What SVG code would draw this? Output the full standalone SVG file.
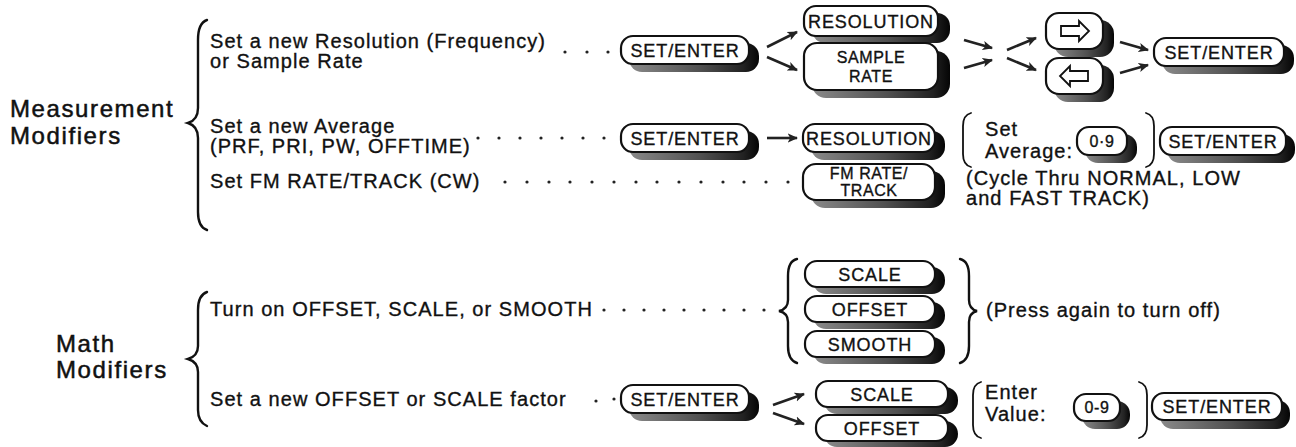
<svg xmlns="http://www.w3.org/2000/svg" width="1296" height="447" viewBox="0 0 1296 447">
<style>
text{font-family:"Liberation Sans",Arial,Helvetica,sans-serif;fill:#111;stroke:#111;stroke-width:0.35}
.body{font-size:20px;letter-spacing:1.05px}
.big{font-size:24px;letter-spacing:1.6px;stroke-width:0.5}
.kt{font-size:18px;letter-spacing:0.9px;text-anchor:middle}
.ks{font-size:16px;letter-spacing:0.6px;text-anchor:middle}
.kw{fill:#fff;stroke:#111;stroke-width:2.2}
.sh{fill:url(#shg)}
.br{fill:none;stroke:#111;stroke-width:2.4;stroke-linecap:round}
.bk{fill:none;stroke:#111;stroke-width:1.8;stroke-linecap:round}
.dot{fill:#222}
.ar{stroke:#222;stroke-width:2.6;marker-end:url(#ah)}
.ic{fill:#fff;stroke:#111;stroke-width:1.8;stroke-linejoin:miter}
</style>
<defs>
<linearGradient id="shg" x1="0" y1="0" x2="1" y2="0">
<stop offset="0" stop-color="#8a8a8a"/>
<stop offset="0.55" stop-color="#505050"/>
<stop offset="0.88" stop-color="#222"/>
<stop offset="1" stop-color="#050505"/>
</linearGradient>
<marker id="ah" viewBox="0 0 10 10" refX="9" refY="5" markerWidth="4" markerHeight="4" orient="auto" markerUnits="strokeWidth">
<path d="M0,0.5 L10,5 L0,9.5 L2.5,5 Z" fill="#222"/>
</marker>
</defs>

<g id="label-measurement">
<text class="big" x="10" y="117">Measurement</text>
<text class="big" x="10" y="144">Modifiers</text>
<path class="br" d="M207,20 Q198,23 198,40 L198,108 Q198,120 188,123 Q198,126 198,138 L198,212 Q198,227 207,230"/>
</g>

<g id="label-math">
<text class="big" x="56" y="352">Math</text>
<text class="big" x="56" y="378">Modifiers</text>
<path class="br" d="M207,292 Q198,295 198,310 L198,346 Q198,356 188,359 Q198,362 198,372 L198,410 Q198,422 207,426"/>
</g>

<g id="row1-text">
<text class="body" x="210" y="48">Set a new Resolution (Frequency)</text>
<text class="body" x="210" y="68">or Sample Rate</text>
<circle class="dot" cx="565" cy="52" r="1.6"/><circle class="dot" cx="587" cy="52" r="1.6"/><circle class="dot" cx="608" cy="52" r="1.6"/>
</g>
<g id="row2-text">
<text class="body" x="210" y="133">Set a new Average</text>
<text class="body" x="210" y="153">(PRF, PRI, PW, OFFTIME)</text>
<circle class="dot" cx="478" cy="138" r="1.6"/><circle class="dot" cx="499" cy="138" r="1.6"/><circle class="dot" cx="520" cy="138" r="1.6"/><circle class="dot" cx="541" cy="138" r="1.6"/><circle class="dot" cx="562" cy="138" r="1.6"/><circle class="dot" cx="583" cy="138" r="1.6"/><circle class="dot" cx="604" cy="138" r="1.6"/>
</g>
<g id="row3-text">
<text class="body" x="210" y="188">Set FM RATE/TRACK (CW)</text>
<circle class="dot" cx="505" cy="182" r="1.6"/><circle class="dot" cx="527" cy="182" r="1.6"/><circle class="dot" cx="549" cy="182" r="1.6"/><circle class="dot" cx="570" cy="182" r="1.6"/><circle class="dot" cx="592" cy="182" r="1.6"/><circle class="dot" cx="614" cy="182" r="1.6"/><circle class="dot" cx="636" cy="182" r="1.6"/><circle class="dot" cx="657" cy="182" r="1.6"/><circle class="dot" cx="679" cy="182" r="1.6"/><circle class="dot" cx="701" cy="182" r="1.6"/><circle class="dot" cx="723" cy="182" r="1.6"/><circle class="dot" cx="744" cy="182" r="1.6"/><circle class="dot" cx="766" cy="182" r="1.6"/><circle class="dot" cx="788" cy="182" r="1.6"/>
<text class="body" x="966" y="185">(Cycle Thru NORMAL, LOW</text>
<text class="body" x="966" y="205">and FAST TRACK)</text>
</g>
<g id="row4-text">
<text class="body" x="210" y="316">Turn on OFFSET, SCALE, or SMOOTH</text>
<circle class="dot" cx="604" cy="310" r="1.6"/><circle class="dot" cx="624" cy="310" r="1.6"/><circle class="dot" cx="644" cy="310" r="1.6"/><circle class="dot" cx="664" cy="310" r="1.6"/><circle class="dot" cx="684" cy="310" r="1.6"/><circle class="dot" cx="704" cy="310" r="1.6"/><circle class="dot" cx="724" cy="310" r="1.6"/><circle class="dot" cx="744" cy="310" r="1.6"/><circle class="dot" cx="764" cy="310" r="1.6"/>
<path class="br" d="M797,259 Q788,261 788,276 L788,300 Q788,309 779,311 Q788,313 788,322 L788,346 Q788,360 797,363"/>
<path class="br" d="M960,259 Q969,261 969,276 L969,300 Q969,309 977,311 Q969,313 969,322 L969,346 Q969,360 960,363"/>
<text class="body" x="986" y="317">(Press again to turn off)</text>
</g>
<g id="row5-text">
<text class="body" x="210" y="406">Set a new OFFSET or SCALE factor</text>
<circle class="dot" cx="596" cy="401" r="1.6"/><circle class="dot" cx="614" cy="399" r="1.6"/>
</g>

<g id="key-setenter-1"><rect class="sh" x="629" y="43" width="130" height="29" rx="13"/><rect class="kw" x="621" y="36" width="128" height="28" rx="12"/><text class="kt" x="685" y="56.5">SET/ENTER</text></g>
<g id="key-resolution-1"><rect class="sh" x="812" y="13" width="138" height="30" rx="13"/><rect class="kw" x="804" y="6" width="134" height="30" rx="12"/><text class="kt" x="871" y="27.5">RESOLUTION</text></g>
<g id="key-samplerate"><rect class="sh" x="812" y="51" width="138" height="47" rx="14"/><rect class="kw" x="804" y="43" width="134" height="47" rx="13"/><text class="ks" x="871" y="63">SAMPLE</text><text class="ks" x="871" y="82">RATE</text></g>
<g id="key-right"><rect class="sh" x="1054" y="20" width="60" height="37" rx="14"/><rect class="kw" x="1046" y="13" width="57" height="36" rx="13"/><path class="ic" d="M1061,26 L1079,26 L1079,21 L1089,31 L1079,41 L1079,36 L1061,36 Z"/></g>
<g id="key-left"><rect class="sh" x="1054" y="65" width="60" height="37" rx="14"/><rect class="kw" x="1046" y="58" width="57" height="36" rx="13"/><path class="ic" d="M1088,71 L1070,71 L1070,66 L1060,76 L1070,86 L1070,81 L1088,81 Z"/></g>
<g id="key-setenter-2"><rect class="sh" x="1162" y="45" width="132" height="29" rx="13"/><rect class="kw" x="1154" y="38" width="130" height="28" rx="12"/><text class="kt" x="1219" y="58.5">SET/ENTER</text></g>

<g id="key-setenter-3"><rect class="sh" x="629" y="131" width="130" height="29" rx="13"/><rect class="kw" x="621" y="124" width="128" height="28" rx="12"/><text class="kt" x="685" y="144.5">SET/ENTER</text></g>
<g id="key-resolution-2"><rect class="sh" x="811" y="131" width="134" height="29" rx="13"/><rect class="kw" x="803" y="124" width="132" height="28" rx="12"/><text class="kt" x="869" y="144.5">RESOLUTION</text></g>
<g id="set-average">
<path class="bk" d="M971,113 Q963,115 963,126 L963,154 Q963,165 971,167"/>
<text class="body" x="985" y="136">Set</text>
<text class="body" x="985" y="158">Average:</text>
<path class="bk" d="M1146,113 Q1154,115 1154,126 L1154,154 Q1154,165 1146,167"/>
</g>
<g id="key-09-1"><rect class="sh" x="1085" y="134" width="52" height="29" rx="13"/><rect class="kw" x="1077" y="127" width="50" height="28" rx="12"/><text class="ks" x="1102" y="147">0·9</text></g>
<g id="key-setenter-4"><rect class="sh" x="1167" y="134" width="128" height="29" rx="13"/><rect class="kw" x="1160" y="127" width="126" height="28" rx="12"/><text class="kt" x="1223" y="147.5">SET/ENTER</text></g>

<g id="key-fmrate"><rect class="sh" x="811" y="171" width="134" height="37" rx="14"/><rect class="kw" x="803" y="164" width="132" height="36" rx="13"/><text class="ks" x="869" y="179">FM RATE/</text><text class="ks" x="869" y="196">TRACK</text></g>

<g id="key-scale-1"><rect class="sh" x="813" y="267" width="132" height="27" rx="13"/><rect class="kw" x="805" y="261" width="130" height="26" rx="12"/><text class="kt" x="870" y="280.5">SCALE</text></g>
<g id="key-offset-1"><rect class="sh" x="813" y="302" width="132" height="27" rx="13"/><rect class="kw" x="805" y="296" width="130" height="26" rx="12"/><text class="kt" x="870" y="315.5">OFFSET</text></g>
<g id="key-smooth"><rect class="sh" x="813" y="337" width="132" height="27" rx="13"/><rect class="kw" x="805" y="331" width="130" height="26" rx="12"/><text class="kt" x="870" y="350.5">SMOOTH</text></g>

<g id="key-setenter-5"><rect class="sh" x="629" y="392" width="130" height="29" rx="13"/><rect class="kw" x="621" y="385" width="128" height="28" rx="12"/><text class="kt" x="685" y="405.5">SET/ENTER</text></g>
<g id="key-scale-2"><rect class="sh" x="824" y="387" width="134" height="27" rx="13"/><rect class="kw" x="816" y="381" width="132" height="26" rx="12"/><text class="kt" x="882" y="400.5">SCALE</text></g>
<g id="key-offset-2"><rect class="sh" x="824" y="421" width="134" height="26" rx="13"/><rect class="kw" x="816" y="415" width="132" height="26" rx="12"/><text class="kt" x="882" y="434.5">OFFSET</text></g>
<g id="enter-value">
<path class="bk" d="M981,382 Q973,384 973,395 L973,425 Q973,436 981,438"/>
<text class="body" x="985" y="399">Enter</text>
<text class="body" x="985" y="421">Value:</text>
<path class="bk" d="M1139,382 Q1147,384 1147,395 L1147,425 Q1147,436 1139,438"/>
</g>
<g id="key-09-2"><rect class="sh" x="1082" y="401" width="48" height="28" rx="13"/><rect class="kw" x="1074" y="394" width="46" height="27" rx="12"/><text class="ks" x="1097" y="413">0-9</text></g>
<g id="key-setenter-6"><rect class="sh" x="1160" y="400" width="130" height="29" rx="13"/><rect class="kw" x="1152" y="393" width="130" height="27" rx="12"/><text class="kt" x="1217" y="413">SET/ENTER</text></g>

<g id="connectors">
<line class="ar" x1="767" y1="47" x2="797" y2="32"/>
<line class="ar" x1="767" y1="57" x2="797" y2="70"/>
<line class="ar" x1="964" y1="40" x2="992" y2="48"/>
<line class="ar" x1="964" y1="68" x2="992" y2="60"/>
<line class="ar" x1="1007" y1="50" x2="1036" y2="38"/>
<line class="ar" x1="1007" y1="58" x2="1036" y2="70"/>
<line class="ar" x1="1120" y1="42" x2="1148" y2="50"/>
<line class="ar" x1="1120" y1="73" x2="1148" y2="65"/>
<line class="ar" x1="767" y1="138" x2="797" y2="138"/>
<line class="ar" x1="773" y1="405" x2="804" y2="394"/>
<line class="ar" x1="773" y1="413" x2="804" y2="424"/>
</g>
</svg>
